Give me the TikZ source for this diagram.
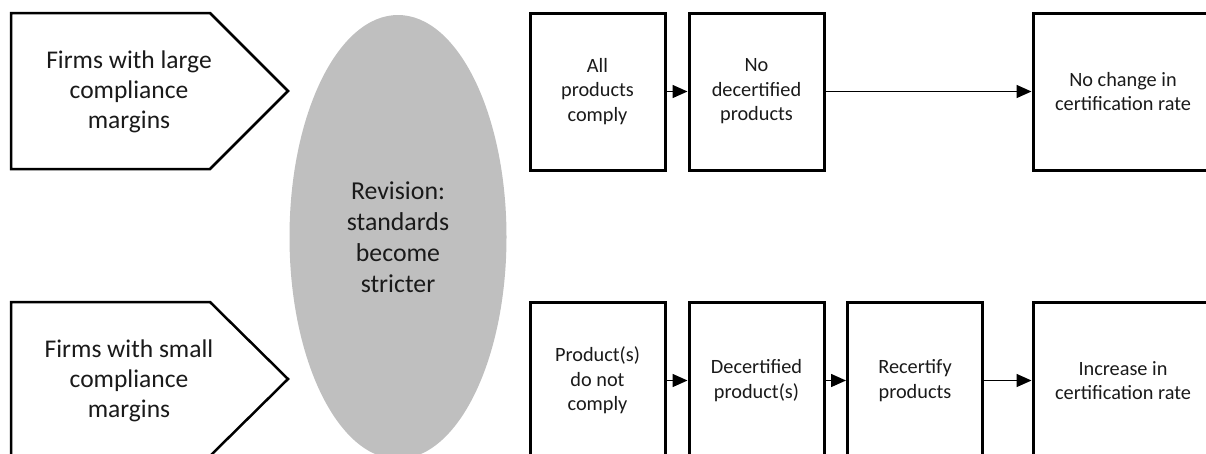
\documentclass[tikz,border=0pt]{standalone}
\usepackage{fontspec}
\setmainfont{Carlito}
\usetikzlibrary{arrows.meta,shapes.geometric}
\definecolor{txt}{HTML}{1A1A1A}
\definecolor{ovalgray}{HTML}{BFBFBF}
\begin{document}
\begin{tikzpicture}[x=1pt,y=-1pt,
  stepbox/.style={draw=black,line width=3pt,minimum width=135pt,minimum height=157pt,inner sep=0pt,
    align=center,text=txt,font=\fontsize{20.3}{24.5}\selectfont},
  widebox/.style={stepbox,minimum width=180pt},
  penta/.style={draw=black,line width=2.5pt,line join=miter,fill=white},
  pentatext/.style={align=center,text=txt,font=\fontsize{25.5}{30}\selectfont},
  conn/.style={draw=black,line width=1.5pt,-{Triangle[length=15pt,width=13pt]}}]
\useasboundingbox (0,0) rectangle (1206,453);
% pentagons
\draw[penta] (11,13) -- (210,13) -- (288,91) -- (210,169) -- (11,169) -- cycle;
\node[pentatext] (large) at (129,92) {Firms with large\\compliance\\margins};
\draw[penta] (11,302) -- (210,302) -- (288,379) -- (210,456) -- (11,456) -- cycle;
\node[pentatext] (small) at (129,381) {Firms with small\\compliance\\margins};
% ellipse
\fill[ovalgray] (398,237) ellipse [x radius=108.5, y radius=222];
\node[align=center,text=txt,font=\fontsize{25.8}{31}\selectfont] (rev) at (398,237) {Revision:\\standards\\become\\stricter};
% top row
\node[stepbox] (t1) at (597.5,91.5) {All\\products\\comply};
\node[stepbox] (t2) at (756.5,91.5) {No\\decertified\\products};
\node[widebox] (t3) at (1123,91.5) {No change in\\certification rate};
% bottom row
\node[stepbox] (u1) at (597.5,380.5) {Product(s)\\do not\\comply};
\node[stepbox] (u2) at (756.5,380.5) {Decertified\\product(s)};
\node[stepbox] (u3) at (915,380.5) {Recertify\\products};
\node[widebox] (u4) at (1123,380.5) {Increase in\\certification rate};
% connectors
\draw[conn] (t1) -- (t2);
\draw[conn] (t2) -- (t3);
\draw[conn] (u1) -- (u2);
\draw[conn] (u2) -- (u3);
\draw[conn] (u3) -- (u4);
\end{tikzpicture}
\end{document}
